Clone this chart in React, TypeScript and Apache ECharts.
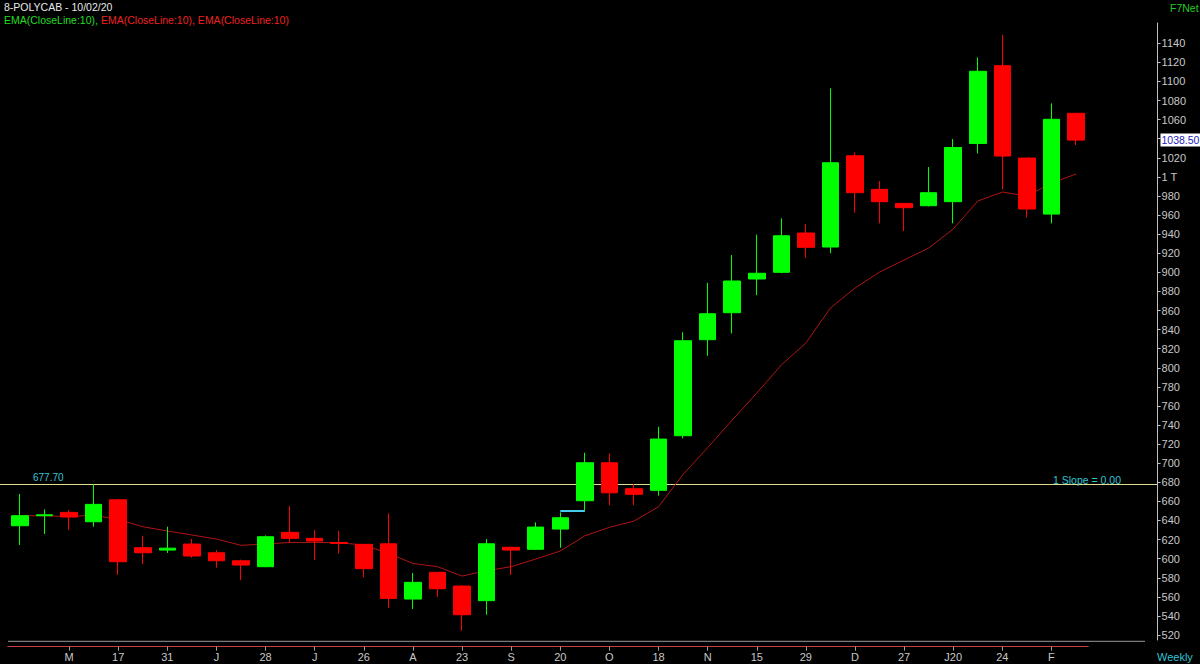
import React, { useEffect, useRef } from 'react';
import * as echarts from 'echarts';

const xLabels = ['', '', 'M', '', '17', '', '31', '', 'J', '', '28', '', 'J', '', '26', '', 'A', '', '23', '', 'S', '', '20', '', 'O', '', '18', '', 'N', '', '15', '', '29', '', 'D', '', '27', '', 'J20', '', '24', '', 'F', ''];

const opens = [634.5, 645, 648.5, 638.7, 661.7, 611.5, 609, 615.3, 606.2, 597.8, 591.6, 627.6, 621.3, 617, 615, 615.6, 557.7, 585.7, 571.3, 556, 611.9, 609.8, 631, 660.7, 700.5, 673.3, 671.6, 728.8, 829.4, 857.7, 893, 900, 941.2, 926.5, 1022.1, 986.9, 972.2, 969.8, 974, 1035, 1116.5, 1019.7, 961, 1066.6];
const closes = [645, 646, 643.6, 656.9, 596.8, 606.2, 611, 602.8, 597.8, 593.3, 623, 621.3, 618.5, 616, 589.5, 558.4, 575.2, 568.5, 541.3, 615.6, 609, 633.1, 642.9, 700.5, 669, 667.4, 725.3, 828.3, 856.6, 890.9, 899, 938.3, 926.2, 1014.8, 983.4, 974, 967.7, 983.4, 1030.8, 1110.6, 1021.8, 966.3, 1060.3, 1038.5];
const lows = [614.3, 625.8, 630, 633.5, 583, 594.4, 606, 601, 590.5, 577.6, 591, 616.7, 598.6, 605.6, 580.5, 548.6, 547.2, 560, 524.5, 541.3, 583, 609, 611.5, 650, 656, 656, 666, 726, 812.6, 836, 876, 899, 915.3, 920, 962.5, 951.3, 943.3, 969, 951.3, 1024.6, 986.9, 957.6, 951.3, 1033.3];
const highs = [667.7, 651.6, 651, 678, 662, 624, 633.5, 620.6, 609, 599, 624.4, 655, 630, 629, 615.5, 647.5, 585, 586, 572, 620.6, 612.5, 638, 648.5, 711, 710.3, 678, 738.2, 837.1, 889, 918.1, 939.4, 956.5, 950.6, 1092.7, 1025.6, 995.6, 972.5, 1010.3, 1039.6, 1125.2, 1148.6, 1020, 1077, 1066.6];
const ema = [645, 645, 644, 645.7, 641, 633.5, 629, 624.8, 620.6, 614, 615.3, 617, 617, 616.7, 614.3, 605.6, 595, 591.6, 581.8, 587.4, 591.6, 599.6, 608, 624, 632.8, 639.4, 654.4, 688.3, 716.2, 745.2, 773.5, 802.9, 825.9, 862.6, 883.5, 900.3, 912.9, 925.4, 945.4, 974.7, 984.1, 979.9, 993.5, 1003];

const yTicks = [520, 540, 560, 580, 600, 620, 640, 660, 680, 700, 720, 740, 760, 780, 800, 820, 840, 860, 880, 900, 920, 940, 960, 980, 1000, 1020, 1040, 1060, 1080, 1100, 1120, 1140];
// 1040 is covered by the last-price box in the reference
const yLabelValues = [520, 540, 560, 580, 600, 620, 640, 660, 680, 700, 720, 740, 760, 780, 800, 820, 840, 860, 880, 900, 920, 940, 960, 980, 1000, 1020, 1060, 1080, 1100, 1120, 1140];

const hLineValue = 677.7;
const hLineLabel = '677.70';
const slopeLabel = '1 Slope = 0.00';
const lastClose = 1038.5;
const lastCloseLabel = '1038.50';
const trendValue = 650.6;
const trendFrom = 22;
const trendTo = 23;

const FONT = '"Liberation Sans", Arial, sans-serif';

export default function App() {
  const ref = useRef<HTMLDivElement>(null);
  useEffect(() => {
    if (!ref.current) return;
    const chart = echarts.init(ref.current, undefined, { renderer: 'svg' });
    const categories = xLabels.map((_, i) => String(i));
    const candles = opens.map((o, i) => [o, closes[i], lows[i], highs[i]]);
    const showIdx = (i: number) => xLabels[i] !== '';
    const option: any = {
      animation: false,
      backgroundColor: '#000000',
      grid: { left: 7.7, right: 111.7, top: 23, bottom: 24, containLabel: false },
      xAxis: {
        type: 'category',
        data: categories,
        boundaryGap: true,
        offset: 6.7,
        axisLine: { show: true, lineStyle: { color: '#c84040', width: 1 } },
        axisTick: { show: true, alignWithLabel: true, interval: (i: number) => showIdx(i), length: 4, lineStyle: { color: '#a0a0a0' } },
        axisLabel: {
          interval: (i: number) => showIdx(i),
          formatter: (_v: string, i: number) => xLabels[i],
          color: '#c8c8c8',
          fontFamily: FONT,
          fontSize: 11,
          margin: 5,
        },
        splitLine: { show: false },
      },
      yAxis: {
        type: 'value',
        position: 'right',
        offset: 69.3,
        min: 514.8,
        max: 1161.2,
        axisLine: { show: true, lineStyle: { color: '#c0c0c0' } },
        axisTick: { show: true, length: 3, customValues: yTicks, lineStyle: { color: '#c0c0c0' } },
        axisLabel: {
          customValues: yLabelValues,
          formatter: (v: number) => (v === 1000 ? '1 T' : String(v)),
          color: '#c8c8c8',
          fontFamily: FONT,
          fontSize: 11,
          margin: 4,
        },
        splitLine: { show: false },
      },
      series: [
        {
          type: 'line',
          data: ema,
          symbol: 'none',
          showSymbol: false,
          lineStyle: { color: '#b01414', width: 1 },
          z: 1,
        },
        {
          type: 'candlestick',
          data: candles,
          barWidth: 17,
          z: 2,
          itemStyle: {
            color: '#00ff00',
            color0: '#ff0000',
            borderColor: '#00ff00',
            borderColor0: '#ff0000',
            borderWidth: 1,
          },
          markLine: {
            symbol: 'none',
            silent: true,
            label: { show: false },
            lineStyle: { color: '#44ccee', width: 2, type: 'solid' },
            data: [[{ coord: [trendFrom, trendValue] }, { coord: [trendTo, trendValue] }]],
          },
        },
      ],
    };
    chart.setOption(option);

    const yH = chart.convertToPixel({ yAxisIndex: 0 }, hLineValue) as number;
    const yL = chart.convertToPixel({ yAxisIndex: 0 }, lastClose) as number;

    const graphics: any[] = [
      { type: 'text', x: 4, y: 6.5, style: { text: '8-POLYCAB - 10/02/20', fill: '#e8e8e8', font: `10.5px ${FONT}`, textVerticalAlign: 'middle' } },
      { type: 'text', x: 4, y: 19.5, style: { text: 'EMA(CloseLine:10),', fill: '#22dd22', font: `10.5px ${FONT}`, textVerticalAlign: 'middle' } },
      { type: 'text', x: 101, y: 19.5, style: { text: 'EMA(CloseLine:10), EMA(CloseLine:10)', fill: '#ee2222', font: `10.5px ${FONT}`, textVerticalAlign: 'middle' } },
      { type: 'text', x: 1170, y: 7.5, style: { text: 'F7Net', fill: '#22cc22', font: `10.5px ${FONT}`, textVerticalAlign: 'middle' } },
      { type: 'text', x: 1157, y: 656.5, style: { text: 'Weekly', fill: '#33c4d4', font: `11px ${FONT}`, textVerticalAlign: 'middle' } },
      { type: 'line', shape: { x1: 8, y1: 641.3, x2: 1145, y2: 641.3 }, style: { stroke: '#9a9a9a', lineWidth: 1 } },
      { type: 'line', z: 0, shape: { x1: 0, y1: yH, x2: 1157, y2: yH }, style: { stroke: '#dede8c', lineWidth: 1 } },
      { type: 'text', x: 33, y: yH - 7, style: { text: hLineLabel, fill: '#33c4d4', font: `10px ${FONT}`, textVerticalAlign: 'middle' } },
      { type: 'text', x: 1053, y: yH - 5, style: { text: slopeLabel, fill: '#33c4d4', font: `10.5px ${FONT}`, textVerticalAlign: 'middle' } },
      { type: 'rect', shape: { x: 1160.5, y: yL - 6.5, width: 40, height: 13 }, style: { fill: '#ffffff' } },
      { type: 'text', x: 1161.5, y: yL, style: { text: lastCloseLabel, fill: '#2222c0', font: `10.5px ${FONT}`, textVerticalAlign: 'middle' } },
    ];
    chart.setOption({ graphic: graphics });

    return () => chart.dispose();
  }, []);
  return <div ref={ref} style={{ position: 'fixed', left: 0, top: 0, width: 1200, height: 664, background: '#000' }} />;
}
